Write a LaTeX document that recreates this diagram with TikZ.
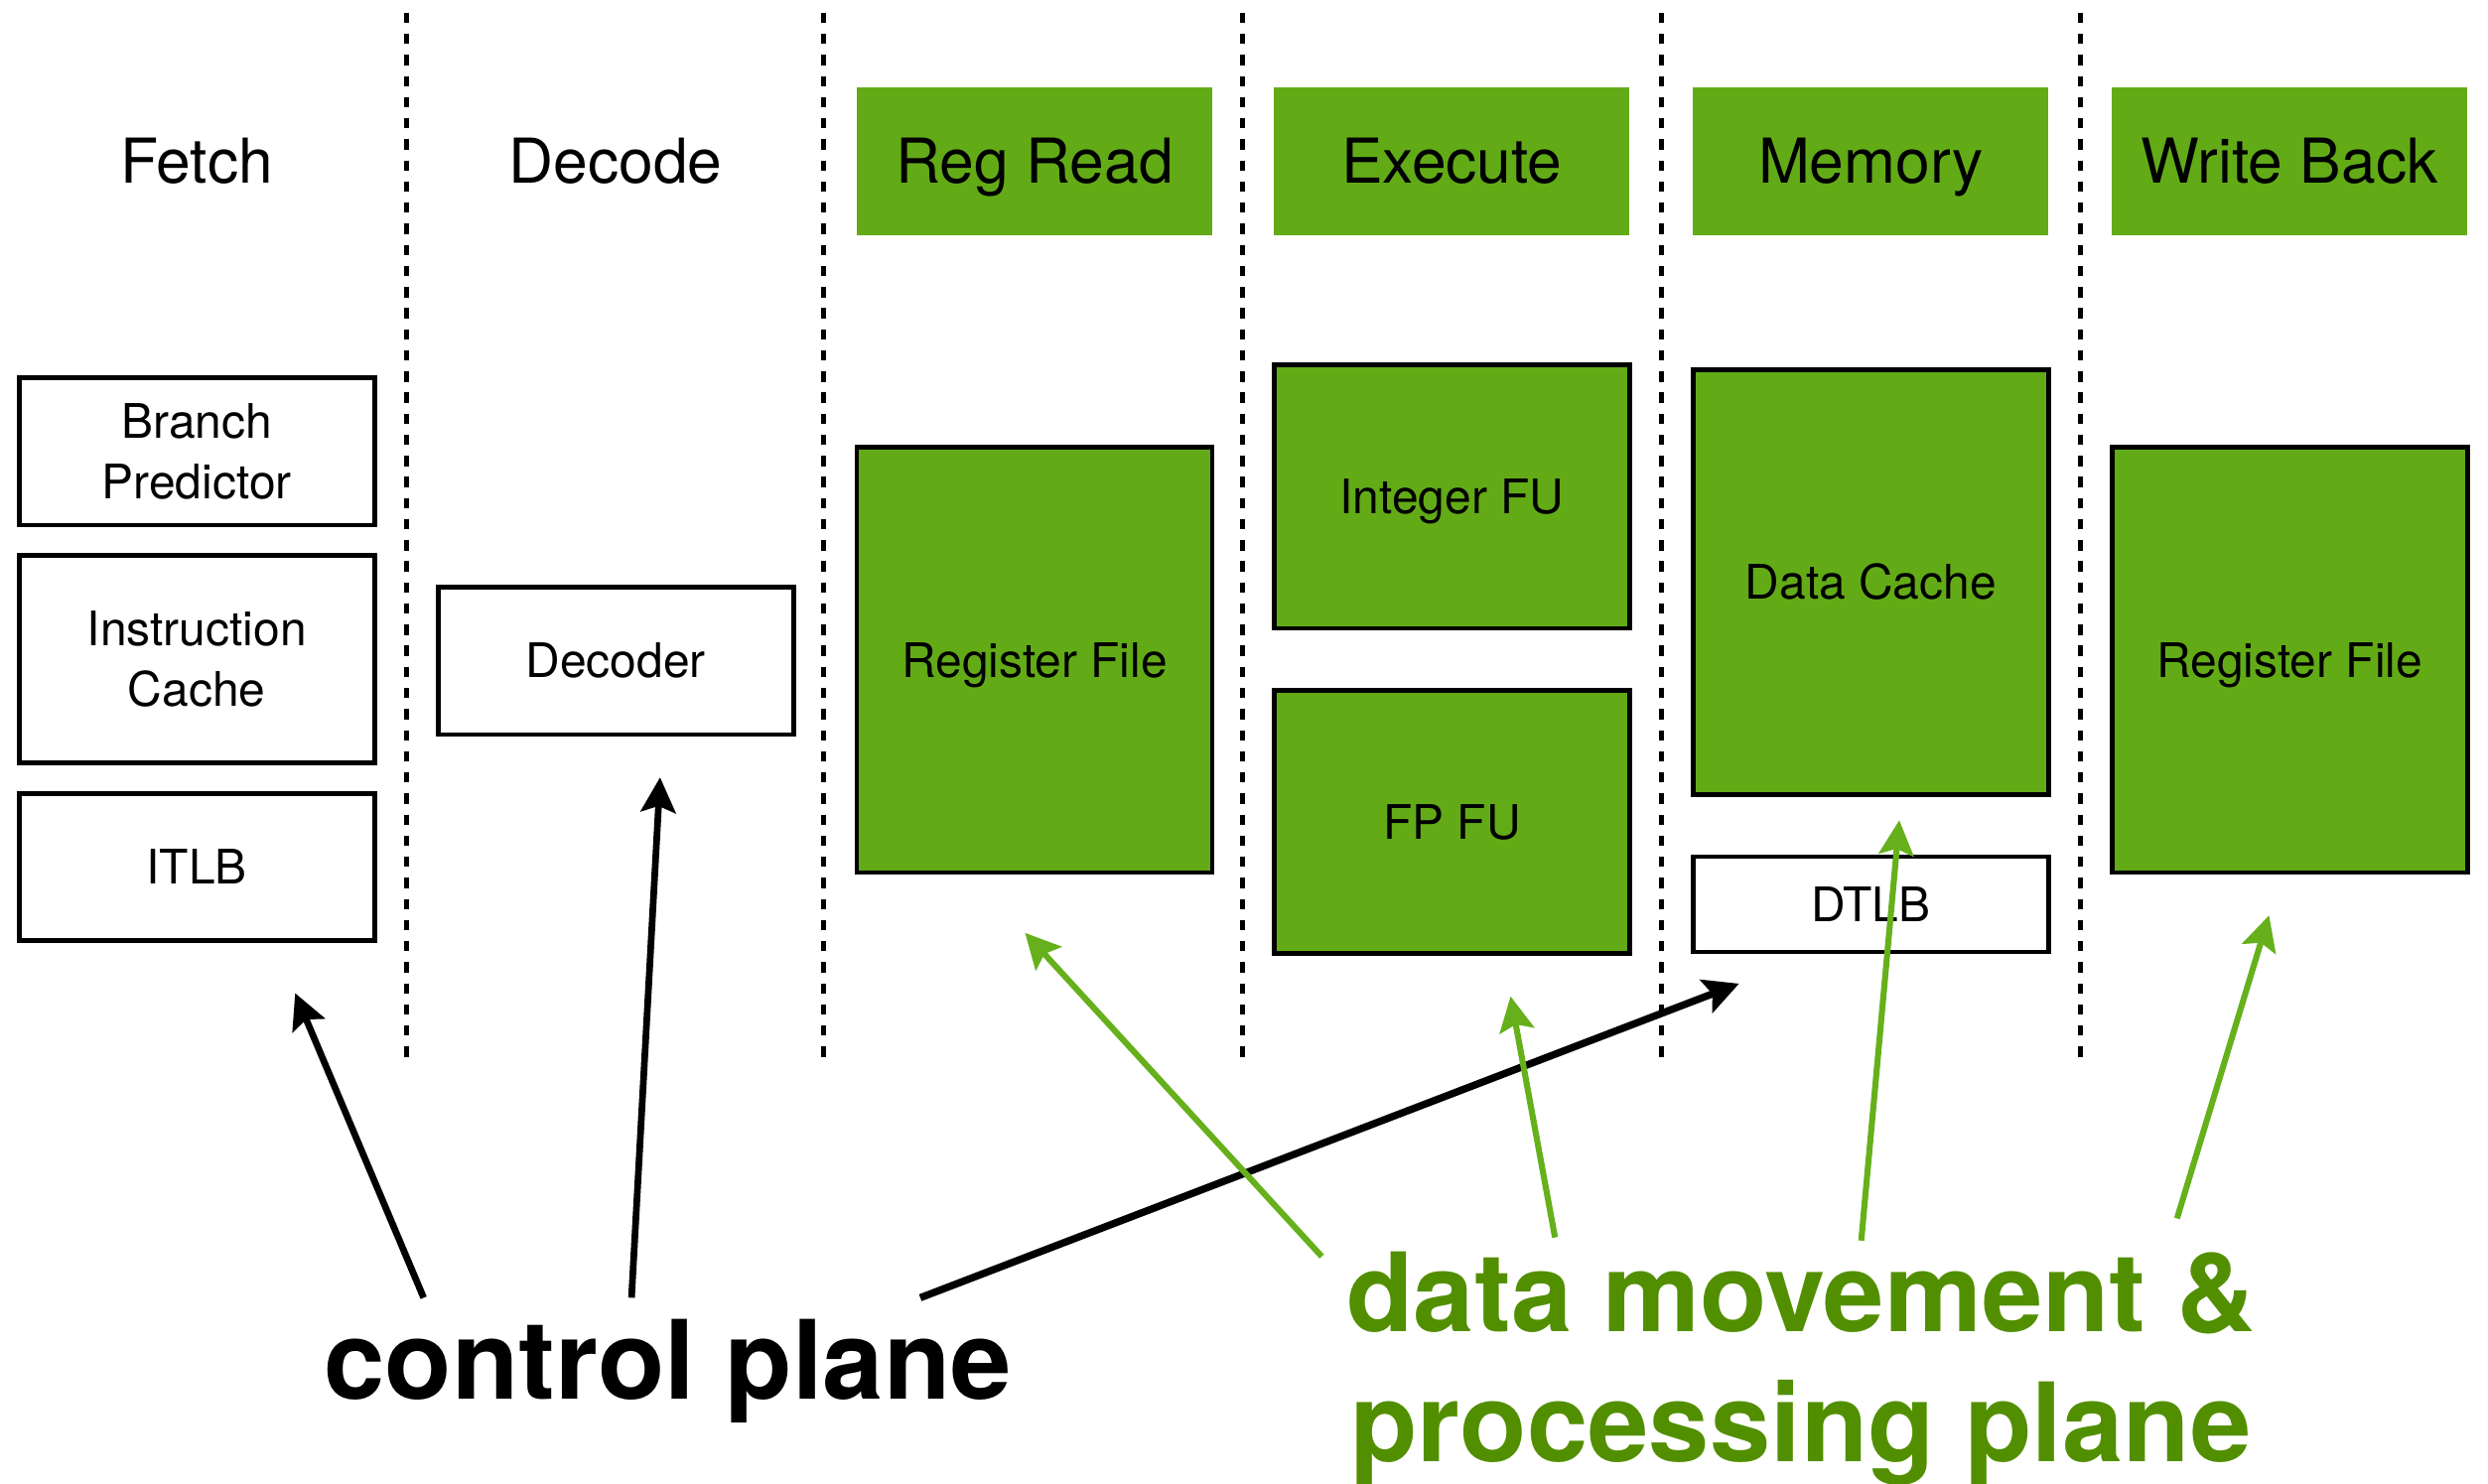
\documentclass[tikz,border=0pt]{standalone}
\usepackage{fontspec}
\setmainfont{TeX Gyre Heros}
\usetikzlibrary{arrows.meta}
\definecolor{boxgreen}{HTML}{62AB17}
\definecolor{arrowgreen}{HTML}{66B01C}
\definecolor{textgreen}{HTML}{528F00}
\begin{document}
\begin{tikzpicture}[x=1pt,y=-1pt,
  stagelbl/.style={minimum width=224pt, minimum height=93pt, inner sep=0pt,
    text height=28pt, text depth=0pt, font=\fontsize{39}{44}\selectfont},
  hdr/.style={stagelbl, fill=boxgreen},
  unit/.style={draw=black, line width=3pt, minimum width=224pt, inner sep=0pt,
    align=center, font=\fontsize{30}{38}\selectfont},
  gunit/.style={unit, fill=boxgreen},
  oneline/.style={text height=21.5pt, text depth=0pt},
  sepline/.style={line width=3.3pt, dash pattern=on 6.5pt off 6.8pt},
  tipstyle/.style={-{Stealth[length=22pt,width=22pt,inset=4pt]}},
  ctl/.style={line width=4.2pt, tipstyle},
  dat/.style={line width=3.8pt, arrowgreen, tipstyle},
  bigtext/.style={font=\fontsize{69}{82}\selectfont\bfseries, inner sep=0pt}
]
\useasboundingbox (0,0) rectangle (1568,935);

% stage separators
\foreach \i/\x in {1/256,2/519,3/783,4/1047,5/1311}{
  \coordinate (st\i) at (\x,8);
  \coordinate (sb\i) at (\x,668);
  \draw[sepline] (st\i) -- (sb\i);
}

% stage headers
\node[stagelbl] (hfetch) at (124,101.5) {Fetch};
\node[stagelbl] (hdecode) at (388,101.5) {Decode};
\node[hdr] (hreg) at (652,101.5) {Reg Read};
\node[hdr] (hexec) at (915,101.5) {Execute};
\node[hdr] (hmem) at (1179,101.5) {Memory};
\node[hdr] (hwb) at (1443,101.5) {Write Back};

% fetch units
\node[unit, minimum height=93pt] (bp) at (124,284.5) {Branch\\Predictor};
\node[unit, minimum height=131pt] (icache) at (124,415.5) {Instruction\\Cache};
\node[unit, oneline, minimum height=93pt] (itlb) at (124,546.5) {ITLB};
% decode
\node[unit, oneline, minimum height=93pt] (decoder) at (388,416.5) {Decoder};
% reg read
\node[gunit, oneline, minimum height=268pt] (rf1) at (652,416) {Register File};
% execute
\node[gunit, oneline, minimum height=166pt] (intfu) at (915,313) {Integer FU};
\node[gunit, oneline, minimum height=166pt] (fpfu) at (915,518) {FP FU};
% memory
\node[gunit, oneline, minimum height=268pt] (dcache) at (1179,367) {Data Cache};
\node[unit, oneline, minimum height=60pt] (dtlb) at (1179,570) {DTLB};
% write back
\node[gunit, oneline, minimum height=268pt] (rf2) at (1443,416) {Register File};

% plane labels
\node[bigtext, anchor=base west] (ctlplane) at (204,882) {control plane};
\node[bigtext, text=textgreen, align=center] (dataplane) at (1135,863)
  {data movement \&\\processing plane};

% control arrows
\coordinate (c1s) at (267,818);  \coordinate (c1e) at (186,626);
\coordinate (c2s) at (398,818);  \coordinate (c2e) at (416,490);
\coordinate (c3s) at (580,818);  \coordinate (c3e) at (1096,620);
\draw[ctl] (c1s) -- (c1e);
\draw[ctl] (c2s) -- (c2e);
\draw[ctl, line width=4.6pt] (c3s) -- (c3e);

% data arrows
\coordinate (d1s) at (833,792);  \coordinate (d1e) at (646,588);
\coordinate (d2s) at (980,780);  \coordinate (d2e) at (952,628);
\coordinate (d3s) at (1173,782); \coordinate (d3e) at (1197,517);
\coordinate (d4s) at (1372,768); \coordinate (d4e) at (1430,577);
\draw[dat] (d1s) -- (d1e);
\draw[dat] (d2s) -- (d2e);
\draw[dat] (d3s) -- (d3e);
\draw[dat] (d4s) -- (d4e);
\end{tikzpicture}
\end{document}
